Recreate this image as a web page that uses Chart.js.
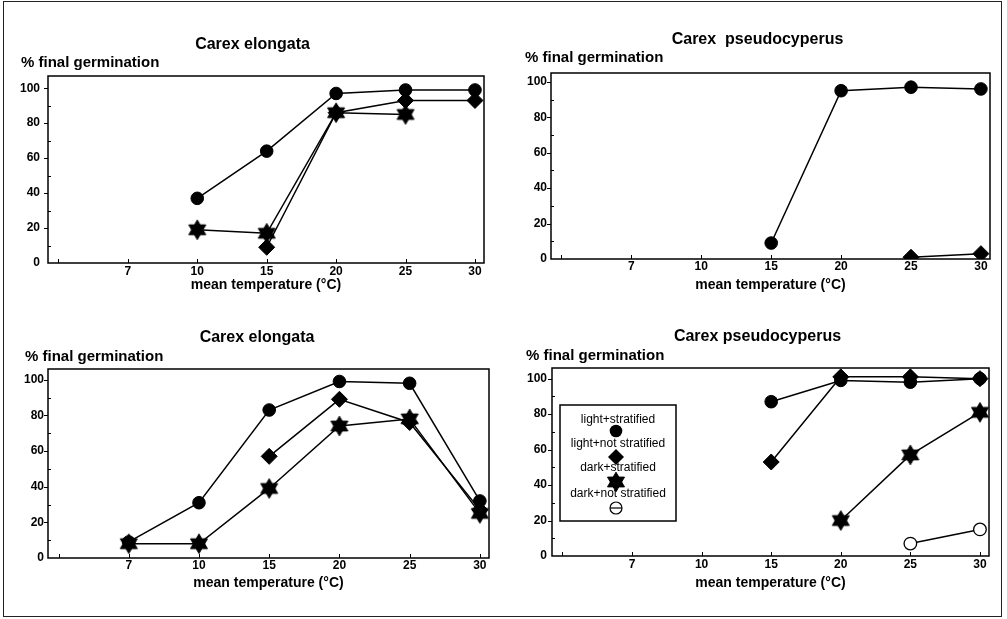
<!DOCTYPE html>
<html>
<head>
<meta charset="utf-8">
<script src="https://cdn.jsdelivr.net/npm/chart.js@4/dist/chart.umd.min.js"></script>
<style>
  html, body { margin: 0; padding: 0; background: #fff; }
  #wrap { position: relative; width: 1007px; height: 619px; overflow: hidden; background: #fff; }
  #outer { position: absolute; left: 3px; top: 1px; width: 999px; height: 616px; box-sizing: border-box; border: 1.5px solid #222; }
  canvas { position: absolute; }
</style>
</head>
<body>
<div id="wrap"><div id="outer"></div></div>
<script>
// ---------- data ----------
const xTickLabels = ['', '7', '10', '15', '20', '25', '30'];   // index 0 is the blank first tick
const temps = ['7', '10', '15', '20', '25', '30'];
const yTickValues = [0, 20, 40, 60, 80, 100];
const seriesNames = ['light+stratified', 'light+not stratified', 'dark+stratified', 'dark+not stratified'];

const panelTitles = ['Carex elongata', 'Carex  pseudocyperus', 'Carex elongata', 'Carex pseudocyperus'];
const yLabel = '% final germination';
const xLabel = 'mean temperature (°C)';

// Panel 1: Carex elongata (top)
const elong1LightStrat = [null, 37, 64, 97, 99, 99];
const elong1LightNot   = [null, null, 9, 86, 93, 93];
const elong1DarkStrat  = [null, 19, 17, 86, 85, null];
const elong1DarkNot    = [null, null, null, null, null, null];

// Panel 2: Carex pseudocyperus (top)
const pseudo1LightStrat = [null, null, 9, 95, 97, 96];
const pseudo1LightNot   = [null, null, null, null, 1, 3];
const pseudo1DarkStrat  = [null, null, null, null, null, null];
const pseudo1DarkNot    = [null, null, null, null, null, null];

// Panel 3: Carex elongata (bottom)
const elong2LightStrat = [9, 31, 83, 99, 98, 32];
const elong2LightNot   = [null, null, 57, 89, 76, 27];
const elong2DarkStrat  = [8, 8, 39, 74, 78, 25];
const elong2DarkNot    = [null, null, null, null, null, null];

// Panel 4: Carex pseudocyperus (bottom)
const pseudo2LightStrat = [null, null, 87, 99, 98, 100];
const pseudo2LightNot   = [null, null, 53, 101, 101, 100];
const pseudo2DarkStrat  = [null, null, null, 20, 57, 81];
const pseudo2DarkNot    = [null, null, null, null, 7, 15];

// ---------- styling ----------
const FONT = '"Liberation Sans", Arial, Helvetica, sans-serif';
Chart.defaults.color = '#000';
Chart.defaults.font.family = FONT;

function makeStar(r) {
  const c = document.createElement('canvas');
  const s = Math.ceil(r * 2 + 4);
  c.width = c.height = s;
  const g = c.getContext('2d');
  g.fillStyle = '#000';
  g.strokeStyle = '#000';
  g.lineWidth = 1;
  g.lineJoin = 'round';
  const cx = s / 2, cy = s / 2;
  for (const rot of [-Math.PI / 2, Math.PI / 2]) {
    g.beginPath();
    for (let k = 0; k < 3; k++) {
      const a = rot + k * 2 * Math.PI / 3;
      const x = cx + r * Math.cos(a), y = cy + r * Math.sin(a);
      if (k) g.lineTo(x, y); else g.moveTo(x, y);
    }
    g.closePath();
    g.fill();
    g.stroke();
  }
  return c;
}
const starImg = makeStar(9.8);

const styles = [
  { pointStyle: 'circle', pointRadius: 6.3, pointBackgroundColor: '#000', pointBorderWidth: 1 },
  { pointStyle: 'rectRot', pointRadius: 8, pointBackgroundColor: '#000', pointBorderWidth: 1 },
  { pointStyle: starImg, pointRadius: 9, pointBackgroundColor: '#000', pointBorderWidth: 0 },
  { pointStyle: 'circle', pointRadius: 6.3, pointBackgroundColor: '#fff', pointBorderWidth: 1.3 }
];

function toPoints(vals) {
  return vals.map((v, i) => ({ x: i + 1, y: v }));
}

const framePlugin = {
  id: 'frame',
  afterLayout(chart) {
    // let y tick labels extend left of the axis box (no clipping)
    chart.scales.y.left = 0;
  },
  afterDatasetsDraw(chart) {
    const { ctx, chartArea: a, scales: { x, y } } = chart;
    ctx.save();
    ctx.strokeStyle = '#000';
    ctx.lineWidth = 1.5;
    ctx.strokeRect(a.left, a.top, a.right - a.left, a.bottom - a.top);
    ctx.lineWidth = 1;
    ctx.beginPath();
    for (let i = 0; i <= 6; i++) {
      const px = Math.round(x.getPixelForValue(i)) + 0.5;
      ctx.moveTo(px, a.bottom);
      ctx.lineTo(px, a.bottom - 4);
    }
    for (let v = 20; v <= 100; v += 20) {
      const py = Math.round(y.getPixelForValue(v)) + 0.5;
      ctx.moveTo(a.left, py);
      ctx.lineTo(a.left - 4, py);
    }
    for (let v = 10; v <= 90; v += 20) {
      const py = Math.round(y.getPixelForValue(v)) + 0.5;
      ctx.moveTo(a.left, py);
      ctx.lineTo(a.left + 3, py);
    }
    ctx.stroke();
    ctx.restore();
  }
};

function drawLegendBox(chart) {
  const { ctx, chartArea: a } = chart;
  const bx = a.left + 8, by = a.top + 37, bw = 116, bh = 116;
  const cx = bx + bw / 2;
  ctx.save();
  ctx.strokeStyle = '#000';
  ctx.lineWidth = 1.5;
  ctx.strokeRect(bx, by, bw, bh);
  ctx.fillStyle = '#000';
  ctx.font = '12px ' + FONT;
  ctx.textAlign = 'center';
  ctx.textBaseline = 'middle';
  const textY = [15, 39, 63, 89];
  const markY = [26, 52, 77, 103];
  seriesNames.forEach((name, i) => {
    ctx.fillStyle = '#000';
    ctx.fillText(name, cx, by + textY[i]);
    const my = by + markY[i];
    ctx.beginPath();
    if (i === 0) {
      ctx.arc(cx - 2, my, 6.3, 0, Math.PI * 2);
      ctx.fill();
    } else if (i === 1) {
      ctx.moveTo(cx - 2, my - 8); ctx.lineTo(cx + 6, my); ctx.lineTo(cx - 2, my + 8); ctx.lineTo(cx - 10, my);
      ctx.closePath();
      ctx.fill();
    } else if (i === 2) {
      ctx.drawImage(starImg, cx - 2 - starImg.width / 2, my - starImg.height / 2);
    } else {
      ctx.fillStyle = '#fff';
      ctx.lineWidth = 1.2;
      ctx.arc(cx - 2, my, 6, 0, Math.PI * 2);
      ctx.fill();
      ctx.stroke();
      ctx.beginPath();
      ctx.moveTo(cx - 8, my); ctx.lineTo(cx + 4, my);
      ctx.stroke();
    }
  });
  ctx.restore();
}

function makePanel(idx, g, dataSets, extra) {
  const canvas = document.createElement('canvas');
  canvas.width = g.W; canvas.height = g.H;
  canvas.style.left = g.cx + 'px';
  canvas.style.top = g.cy + 'px';
  document.getElementById('wrap').appendChild(canvas);

  const titleHalf = 8, subHalf = 7.5, xTitleHalf = 8.4, tickHalf = 7.2;
  const datasets = dataSets.map((vals, i) => Object.assign({
    label: seriesNames[i],
    data: toPoints(vals),
    borderColor: '#000',
    borderWidth: 1.5,
    pointBorderColor: '#000',
    pointHoverRadius: 0,
    clip: g.clip
  }, styles[i]));

  const plugins = [framePlugin];
  if (extra && extra.legend) plugins.push({ id: 'customLegend', afterDraw: drawLegendBox });

  new Chart(canvas, {
    type: 'line',
    data: { datasets },
    plugins,
    options: {
      responsive: false,
      animation: false,
      devicePixelRatio: 1,
      events: [],
      layout: {
        autoPadding: false,
        padding: {
          top: 0,
          left: g.subX - g.cx,
          right: g.cx + g.W - g.right,
          bottom: g.cy + g.H - (g.xTitleY + xTitleHalf)
        }
      },
      plugins: {
        legend: { display: false },
        tooltip: { enabled: false },
        title: {
          display: true,
          text: panelTitles[idx],
          color: '#000',
          font: { size: 16, weight: 'bold', lineHeight: 1 },
          padding: { top: g.titleY - titleHalf - g.cy, bottom: 0 }
        },
        subtitle: {
          display: true,
          text: yLabel,
          align: 'start',
          color: '#000',
          font: { size: 15, weight: 'bold', lineHeight: 1 },
          padding: { top: g.subY - subHalf - (g.titleY + titleHalf), bottom: g.top - (g.subY + subHalf) }
        }
      },
      scales: {
        x: {
          type: 'linear',
          min: -0.15,
          max: 6.13,
          grid: { display: false, drawTicks: false },
          border: { display: false },
          afterBuildTicks: (s) => { s.ticks = xTickLabels.map((_, i) => ({ value: i })); },
          afterFit: (s) => { s.height = g.xTitleY + xTitleHalf - g.bottom; },
          ticks: {
            autoSkip: false,
            maxRotation: 0,
            padding: g.xLabelY - g.bottom - tickHalf,
            font: { size: 12, weight: 'bold' },
            color: '#000',
            callback: (v) => xTickLabels[v]
          },
          title: {
            display: true,
            text: xLabel,
            color: '#000',
            font: { size: 14, weight: 'bold' },
            padding: 0
          }
        },
        y: {
          type: 'linear',
          min: 0,
          max: g.ymax,
          grid: { display: false, drawTicks: false },
          border: { display: false },
          afterBuildTicks: (s) => { s.ticks = yTickValues.map(v => ({ value: v })); },
          afterFit: (s) => { s.width = g.left - g.subX; },
          ticks: {
            padding: g.yPad,
            font: { size: 12, weight: 'bold' },
            color: '#000'
          }
        }
      }
    }
  });
}

makePanel(0, { cx: 0, cy: 22, W: 500, H: 283, left: 48, right: 484, top: 76, bottom: 263, yPad: 8,
  titleY: 45, subY: 62.5, subX: 21, xLabelY: 272, xTitleY: 285.5, ymax: 107, clip: undefined },
  [elong1LightStrat, elong1LightNot, elong1DarkStrat, elong1DarkNot]);

makePanel(1, { cx: 500, cy: 18, W: 505, H: 287, left: 551, right: 990, top: 73, bottom: 259, yPad: 4,
  titleY: 39.5, subY: 58, subX: 525, xLabelY: 267, xTitleY: 285, ymax: 105, clip: 0 },
  [pseudo1LightStrat, pseudo1LightNot, pseudo1DarkStrat, pseudo1DarkNot]);

makePanel(2, { cx: 0, cy: 318, W: 500, H: 290, left: 48, right: 489, top: 369, bottom: 558, yPad: 4,
  titleY: 338, subY: 356.5, subX: 25, xLabelY: 566, xTitleY: 583, ymax: 106, clip: undefined },
  [elong2LightStrat, elong2LightNot, elong2DarkStrat, elong2DarkNot]);

makePanel(3, { cx: 500, cy: 318, W: 505, H: 290, left: 552, right: 989, top: 368, bottom: 556, yPad: 5,
  titleY: 336.7, subY: 355.8, subX: 526, xLabelY: 565, xTitleY: 583, ymax: 106, clip: undefined },
  [pseudo2LightStrat, pseudo2LightNot, pseudo2DarkStrat, pseudo2DarkNot], { legend: true });
</script>
</body>
</html>
